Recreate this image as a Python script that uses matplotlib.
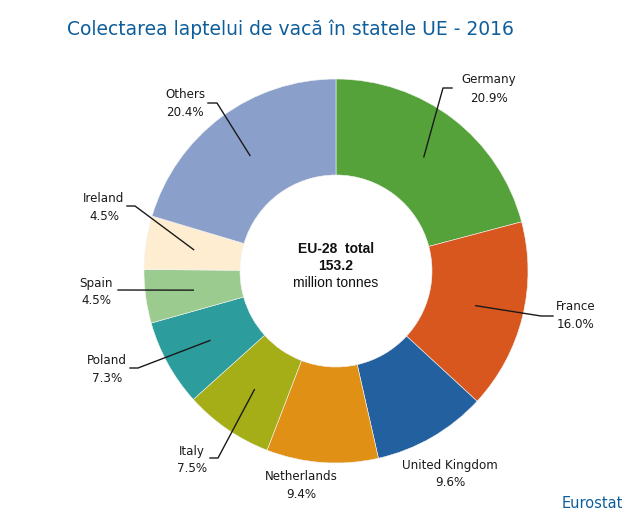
import numpy as np
import matplotlib
matplotlib.use("Agg")
import matplotlib.pyplot as plt

countries = ["Germany", "France", "United Kingdom", "Netherlands", "Italy",
             "Poland", "Spain", "Ireland", "Others"]
shares = [20.9, 16.0, 9.6, 9.4, 7.5, 7.3, 4.5, 4.5, 20.4]
colors = ["#55A23A", "#D8571F", "#22609F", "#E09115", "#A5AE17",
          "#2C9C9C", "#9CCB8F", "#FFEDD2", "#8AA0CA"]

W, H = 640, 518
CX, CY = 336, 271
R_OUT, R_IN = 192, 96

# label centre in pixels (top-left origin), name line
label_pos = [(489, 80), (576, 306), (450, 465), (301, 476), (192, 451),
             (107, 360), (96, 283), (104, 198), (185, 94)]
# leader line: elbow then end next to the label, None = no leader
leaders = [[(443, 88), (452, 88)], [(541, 316), (553, 316)], None, None,
           [(218, 458), (210, 458)], [(138, 368), (130, 368)],
           [(118, 290)], [(135, 206), (127, 206)], [(217, 103), (208, 103)]]


def flip(y):
    return H - y


fig = plt.figure(figsize=(W / 100, H / 100), dpi=100)
ax = fig.add_axes([0, 0, 1, 1])

wedges, _ = ax.pie(shares, colors=colors, startangle=90, counterclock=False,
                   center=(CX, flip(CY)), radius=R_OUT, frame=True,
                   wedgeprops={"width": R_OUT - R_IN, "edgecolor": "#F4F4F4", "linewidth": 0.4})
ax.set_xlim(0, W)
ax.set_ylim(0, H)
ax.set_aspect("equal")
ax.axis("off")

for name, share, wedge, pos, leader in zip(countries, shares, wedges, label_pos, leaders):
    ax.text(pos[0], flip(pos[1]), name, ha="center", va="center", fontsize=8.6, color="#1A1A1A")
    ax.text(pos[0], flip(pos[1] + 18), f"{share:.1f}%", ha="center", va="center",
            fontsize=8.6, color="#1A1A1A")
    if leader is None:
        continue
    mid = np.deg2rad((wedge.theta1 + wedge.theta2) / 2)
    r_mid = (R_OUT + R_IN) / 2
    xs = [CX + r_mid * np.cos(mid)] + [p[0] for p in leader]
    ys = [flip(CY) + r_mid * np.sin(mid)] + [flip(p[1]) for p in leader]
    ax.plot(xs, ys, color="#1A1A1A", lw=1.0, solid_joinstyle="round")

ax.text(CX, flip(249), "EU-28  total", ha="center", va="center", fontsize=10,
        fontweight="bold", family="Liberation Sans", color="#111111")
ax.text(CX, flip(266), "153.2", ha="center", va="center", fontsize=10,
        fontweight="bold", family="Liberation Sans", color="#111111")
ax.text(CX, flip(283), "million tonnes", ha="center", va="center", fontsize=10,
        family="Liberation Sans", color="#111111")

ax.text(67, flip(29), "Colectarea laptelui de vacă în statele UE - 2016", ha="left", va="center",
        fontsize=13.5, color="#0F5E9C")
ax.text(623, flip(504), "Eurostat", ha="right", va="center", fontsize=10.5, color="#0F5E9C")

fig.savefig("out.png", dpi=100)
